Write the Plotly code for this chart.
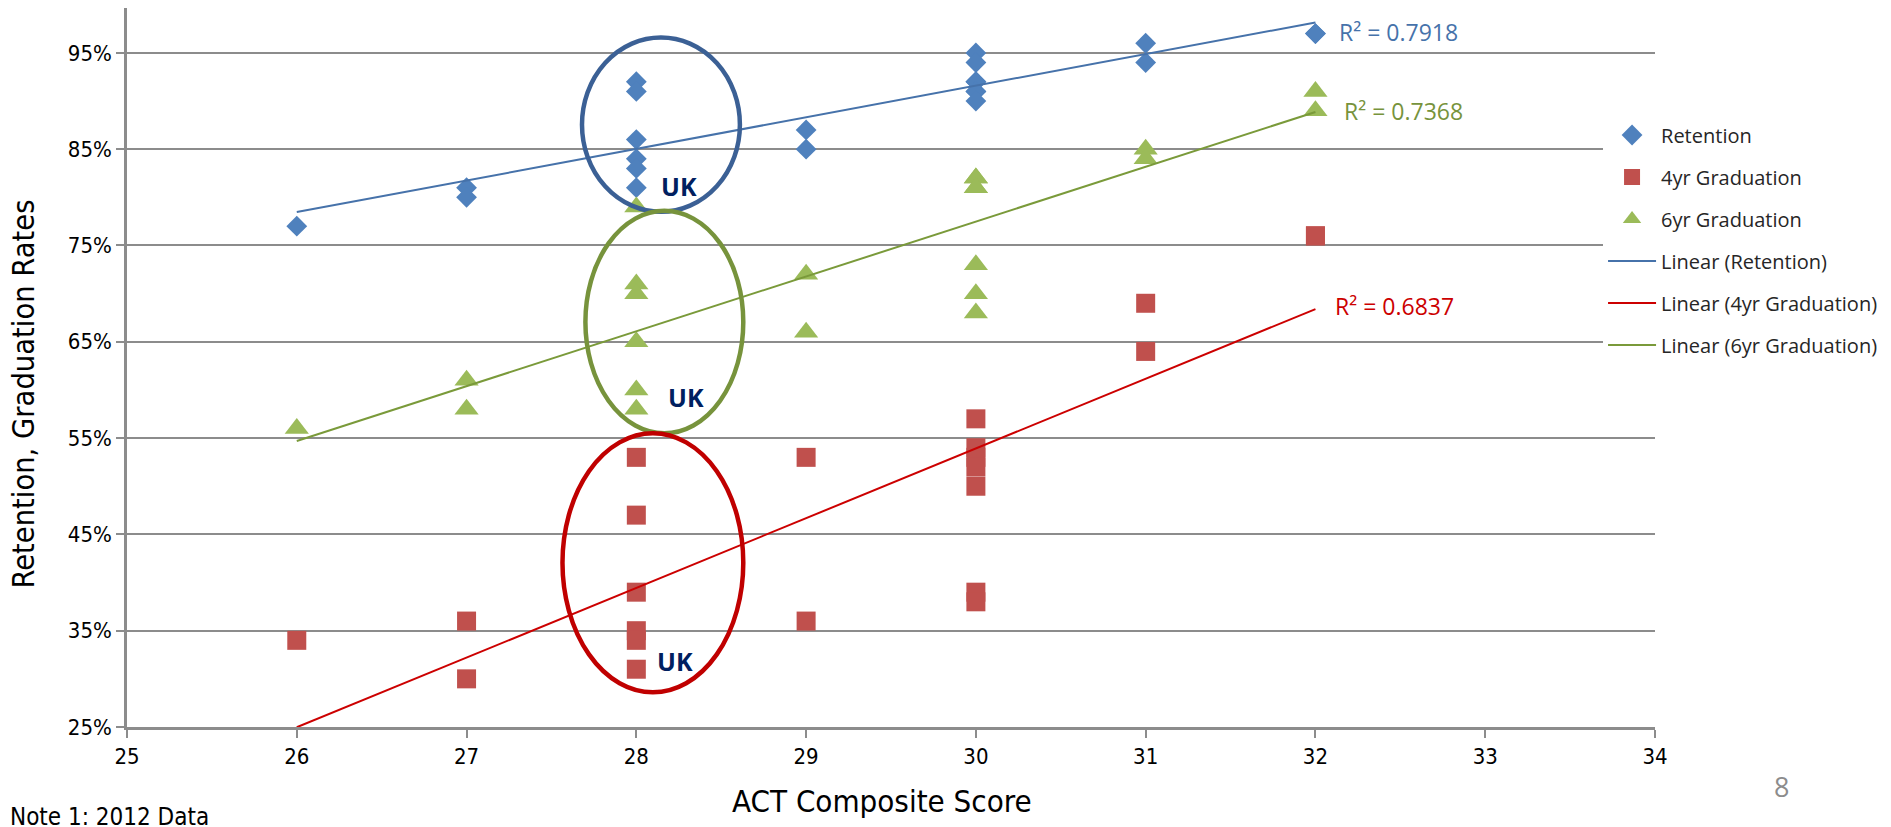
import numpy as np
import plotly.graph_objects as go

# ---------------- data ----------------
# (a few points overlap exactly at 30 and 32: same number of schools per score)
ret_x = [26, 27, 27, 28, 28, 28, 28, 28, 28, 29, 29, 30, 30, 30, 30, 30, 30, 30, 31, 31, 32, 32]
ret_y = [0.77, 0.81, 0.80, 0.92, 0.91, 0.86, 0.84, 0.83, 0.81, 0.87, 0.85,
         0.95, 0.94, 0.92, 0.92, 0.91, 0.91, 0.90, 0.96, 0.94, 0.97, 0.97]

g4_x = [26, 27, 27, 28, 28, 28, 28, 28, 28, 29, 29, 30, 30, 30, 30, 30, 30, 30, 31, 31, 32, 32]
g4_y = [0.34, 0.36, 0.30, 0.53, 0.47, 0.39, 0.35, 0.34, 0.31, 0.53, 0.36,
        0.57, 0.54, 0.53, 0.52, 0.50, 0.39, 0.38, 0.69, 0.64, 0.76, 0.76]

g6_x = [26, 27, 27, 28, 28, 28, 28, 28, 28, 29, 29, 30, 30, 30, 30, 30, 30, 30, 31, 31, 32, 32]
g6_y = [0.56, 0.61, 0.58, 0.79, 0.71, 0.70, 0.65, 0.60, 0.58, 0.72, 0.66,
        0.82, 0.82, 0.81, 0.81, 0.73, 0.70, 0.68, 0.85, 0.84, 0.91, 0.89]

r2_labels = ["R² = 0.7918", "R² = 0.6837", "R² = 0.7368"]
x_ticks = list(range(25, 35))
y_ticks = [0.25, 0.35, 0.45, 0.55, 0.65, 0.75, 0.85, 0.95]

# ---------------- styles ----------------
C_RET, C_G4, C_G6 = "#4F81BD", "#C0504D", "#9BBB59"
T_RET, T_G4, T_G6 = "#4672AA", "#CC0000", "#7A9A3A"
NARROW = "Liberation Sans Narrow, Arial Narrow, DejaVu Sans Condensed, sans-serif"
SANS = "Open Sans, Noto Sans, sans-serif"


def trend(xs, ys):
    m, b = np.polyfit(xs, ys, 1)
    xx = np.array([min(xs), max(xs)], dtype=float)
    return xx, m * xx + b


fig = go.Figure()
fig.add_trace(go.Scatter(x=ret_x, y=ret_y, mode="markers", name="Retention",
                         legendgroup="a",
                         marker=dict(symbol="diamond", size=16, color=C_RET)))
fig.add_trace(go.Scatter(x=g4_x, y=g4_y, mode="markers", name="4yr Graduation",
                         legendgroup="b",
                         marker=dict(symbol="square", size=19, color=C_G4)))
fig.add_trace(go.Scatter(x=g6_x, y=g6_y, mode="markers", name="6yr Graduation",
                         legendgroup="c",
                         marker=dict(symbol="triangle-up", size=21, color=C_G6)))

for xs, ys, nm, col, grp in [(ret_x, ret_y, "Linear (Retention)", T_RET, "d"),
                             (g4_x, g4_y, "Linear (4yr Graduation)", T_G4, "e"),
                             (g6_x, g6_y, "Linear (6yr Graduation)", T_G6, "f")]:
    tx, ty = trend(xs, ys)
    fig.add_trace(go.Scatter(x=tx, y=ty, mode="lines", name=nm, legendgroup=grp,
                             line=dict(color=col, width=2)))

# ellipses highlighting the UK column
ellipses = [
    dict(x0=27.68, x1=28.61, y0=0.785, y1=0.966, color="#3B6095"),
    dict(x0=27.70, x1=28.63, y0=0.555, y1=0.786, color="#77933C"),
    dict(x0=27.565, x1=28.63, y0=0.286, y1=0.555, color="#C00000"),
]
for e in ellipses:
    fig.add_shape(type="circle", xref="x", yref="y", x0=e["x0"], x1=e["x1"],
                  y0=e["y0"], y1=e["y1"], line=dict(color=e["color"], width=4.5))

annos = []
for (ux, uy) in [(28.253, 0.812), (28.294, 0.593), (28.229, 0.3185)]:
    annos.append(dict(x=ux, y=uy, xref="x", yref="y", text="<b>UK</b>",
                      xanchor="center", yanchor="middle", showarrow=False,
                      font=dict(family=SANS, size=25, color="#002060")))

for txt, (rx, ry), col in zip(r2_labels,
                              [(32.124, 0.9717), (32.106, 0.6872), (32.159, 0.8897)],
                              ["#4672AA", "#CC0000", "#77933C"]):
    annos.append(dict(x=rx, y=ry, xref="x", yref="y", text=txt, xanchor="left",
                      yanchor="middle", showarrow=False,
                      font=dict(family=SANS, size=23, color=col)))

# axis titles, note, page number
annos.append(dict(x=0.4941, y=-0.1029, xref="paper", yref="paper",
                  xanchor="center", yanchor="middle",
                  text="ACT Composite Score", showarrow=False,
                  font=dict(family=NARROW, size=31, color="#000000")))
annos.append(dict(x=-0.0680, y=0.4625, xref="paper", yref="paper", textangle=-90,
                  xanchor="center", yanchor="middle",
                  text="Retention, Graduation Rates", showarrow=False,
                  font=dict(family=NARROW, size=30.5, color="#000000")))
annos.append(dict(x=-0.0779, y=-0.1252, xref="paper", yref="paper",
                  xanchor="left", yanchor="middle",
                  text="Note 1: 2012 Data", showarrow=False,
                  font=dict(family=NARROW, size=24, color="#000000")))
annos.append(dict(x=1.0831, y=-0.0834, xref="paper", yref="paper",
                  xanchor="center", yanchor="middle",
                  text="8", showarrow=False,
                  font=dict(family=SANS, size=27, color="#8C8C8C")))

fig.update_layout(
    width=1891, height=827,
    margin=dict(l=119, r=244, t=0, b=108, autoexpand=False),
    paper_bgcolor="white", plot_bgcolor="white",
    showlegend=True,
    legend=dict(x=0.9660, y=0.8505, xanchor="left", yanchor="top",
                bgcolor="white", borderwidth=0, tracegroupgap=13, itemwidth=48,
                font=dict(family=SANS, size=20, color="#262626")),
    annotations=annos,
)
fig.update_xaxes(range=[25, 34], tickvals=x_ticks, ticktext=[str(v) for v in x_ticks],
                 showgrid=False, zeroline=False, showline=True, linecolor="#8C8C8C",
                 linewidth=2.5, ticks="outside", ticklen=8, tickwidth=2, tickcolor="#8C8C8C",
                 tickfont=dict(family=NARROW, size=22, color="#000000"))
fig.update_yaxes(range=[0.25, 0.9966], tickvals=y_ticks,
                 ticktext=[f"{int(round(v*100))}%" for v in y_ticks],
                 showgrid=True, gridcolor="#8C8C8C", gridwidth=2, zeroline=False,
                 showline=True, linecolor="#8C8C8C", linewidth=2.5,
                 ticks="outside", ticklen=8, tickwidth=2, tickcolor="#8C8C8C",
                 tickfont=dict(family=NARROW, size=22, color="#000000"))

fig.write_html("out.html")
